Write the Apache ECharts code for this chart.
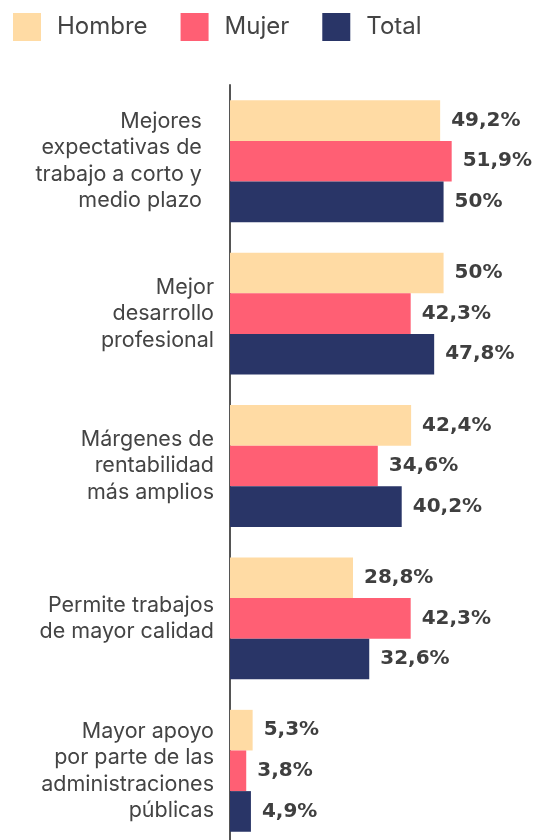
<!DOCTYPE html>
<html>
<head>
<meta charset="utf-8">
<script src="https://cdn.jsdelivr.net/npm/echarts@6/dist/echarts.min.js"></script>
<style>
  html, body { margin: 0; padding: 0; background: #fff; }
  #chart { width: 533px; height: 840px; }
</style>
</head>
<body>
<div id="chart"></div>
<script>
// categorias (de arriba a abajo)
const categorias = [
  'Mejores\u00a0\u00a0\nexpectativas de\u00a0\u00a0\ntrabajo a corto y\u00a0\u00a0\nmedio plazo\u00a0\u00a0',
  'Mejor\ndesarrollo\nprofesional',
  'Márgenes de\nrentabilidad\nmás amplios',
  'Permite trabajos\nde mayor calidad',
  'Mayor apoyo\npor parte de las\nadministraciones\npúblicas'
];
const series_nombres = ['Hombre', 'Mujer', 'Total'];
const hombre = [49.2, 50, 42.4, 28.8, 5.3];
const mujer = [51.9, 42.3, 34.6, 42.3, 3.8];
const total = [50, 47.8, 40.2, 32.6, 4.9];
const colores = ['#FFDBA4', '#FF5F74', '#293567'];

const chart = echarts.init(document.getElementById('chart'));

function serie(nombre, datos, color) {
  return {
    name: nombre,
    type: 'bar',
    data: datos,
    barGap: 0,
    barCategoryGap: '20%',
    itemStyle: { color: color },
    label: {
      show: true,
      position: 'right',
      distance: 11,
      color: '#3f3f3f',
      fontFamily: 'DejaVu Sans',
      fontWeight: 'bold',
      fontSize: 20,
      formatter: p => String(p.value).replace('.', ',') + '%'
    }
  };
}

chart.setOption({
  animation: false,
  legend: {
    left: 13,
    top: 13,
    padding: 0,
    itemWidth: 28,
    itemHeight: 28,
    itemGap: 33,
    icon: 'rect',
    textStyle: { fontSize: 24, color: '#444', fontFamily: 'Inter', padding: [0, 0, 0, 11] },
    data: series_nombres
  },
  grid: { left: 230, right: 4, top: 85, height: 762, outerBoundsMode: 'none' },
  xAxis: {
    type: 'value',
    min: 0,
    max: 70,
    show: false
  },
  yAxis: {
    type: 'category',
    inverse: true,
    data: categorias,
    axisLine: { show: true, lineStyle: { color: '#555', width: 2 } },
    axisTick: { show: false },
    axisLabel: {
      margin: 16,
      fontSize: 21.5,
      lineHeight: 26.5,
      color: '#444',
      fontFamily: 'Inter',
      align: 'right'
    }
  },
  series: [
    serie(series_nombres[0], hombre, colores[0]),
    serie(series_nombres[1], mujer, colores[1]),
    serie(series_nombres[2], total, colores[2])
  ]
});
</script>
</body>
</html>
